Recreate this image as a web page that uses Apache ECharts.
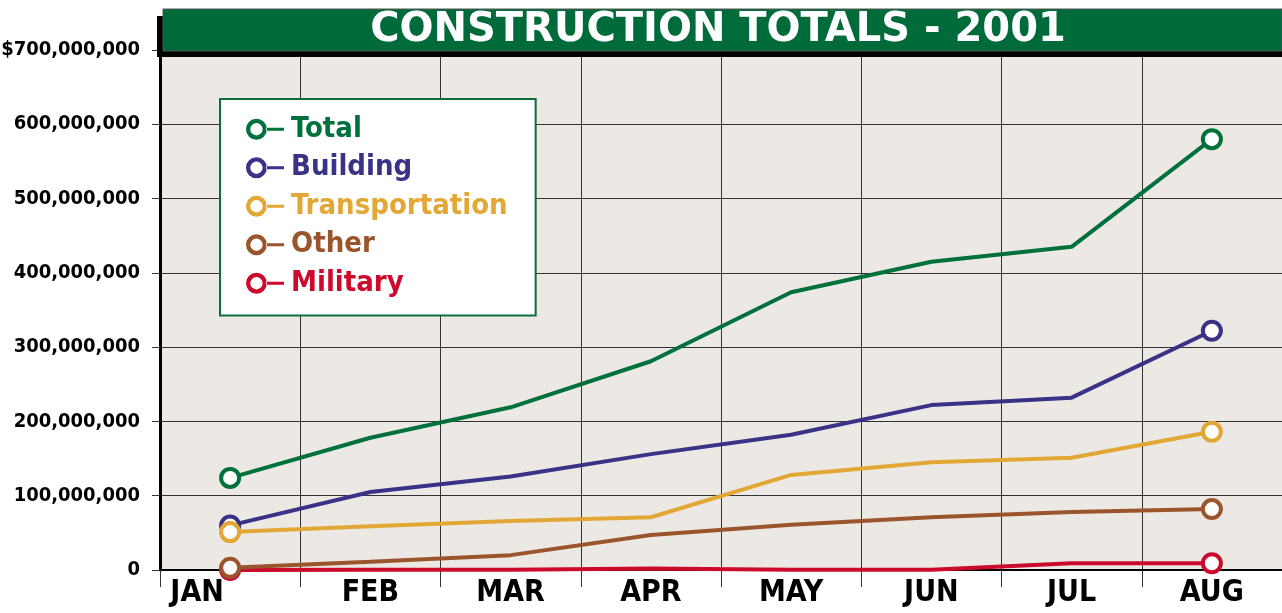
<!DOCTYPE html>
<html>
<head>
<meta charset="utf-8">
<script src="https://cdn.jsdelivr.net/npm/echarts@6/dist/echarts.min.js"></script>
<style>
html,body{margin:0;padding:0;background:#fff;}
#chart{width:1282px;height:613px;}
</style>
</head>
<body>
<div id="chart"></div>
<script>
var months = ['JAN','FEB','MAR','APR','MAY','JUN','JUL','AUG'];
var totalVals = [124000000,178000000,219000000,281000000,374000000,415000000,435000000,580000000];
var buildingVals = [60000000,105000000,126000000,156000000,182000000,222000000,232000000,322000000];
var transVals = [51000000,59000000,66000000,71000000,128000000,145000000,151000000,186000000];
var otherVals = [3000000,11000000,20000000,47000000,61000000,71000000,78000000,82000000];
var militaryVals = [0,500000,500000,2000000,500000,500000,9000000,9000000];
var yTicks = [0,100000000,200000000,300000000,400000000,500000000,600000000,700000000];

var seriesNames = ['Total','Building','Transportation','Other','Military'];
var seriesData = [totalVals,buildingVals,transVals,otherVals,militaryVals];
var colors = ['#00703c','#3a3287','#e2a735','#9b552c','#cc0a2b'];

var narrow = '"DejaVu Sans Condensed","Liberation Sans Narrow",sans-serif';

//只在首尾画圆圈
function buildPoints(vals){
	var arr = [];
	for(var i=0;i<vals.length;i++){
		if(i==0 || i==vals.length-1){
			arr.push({value:vals[i]});
		}else{
			arr.push({value:vals[i], symbol:'none'});
		}
	}
	return arr;
}

var Series = [];
for(var i=0;i<seriesNames.length;i++){
	Series.push({
		name: seriesNames[i],
		type: 'line',
		z: seriesNames[i]=='Military' ? 1 : 2,
		data: buildPoints(seriesData[i]),
		symbol: 'circle',
		symbolSize: 18,
		showAllSymbol: true,
		lineStyle: {color: colors[i], width: 4},
		itemStyle: {color: '#fff', borderColor: colors[i], borderWidth: 4},
		emphasis: {disabled: true}
	});
}

var legendData = [];
for(var i=0;i<seriesNames.length;i++){
	legendData.push({
		name: seriesNames[i],
		itemStyle: {color: colors[i], borderWidth: 0},
		textStyle: {color: colors[i]}
	});
}

//圆环加短线的图例图标
var ringIcon = 'path://M0,11 A11,11 0 1,0 22,11 A11,11 0 1,0 0,11 Z M4.5,11 A6.5,6.5 0 1,1 17.5,11 A6.5,6.5 0 1,1 4.5,11 Z M21,9.3 L40,9.3 L40,12.7 L21,12.7 Z';

var chart = echarts.init(document.getElementById('chart'));
var option = {
	animation: false,
	grid: {
		left: 160, right: 0, top: 50, bottom: 43,
		outerBoundsMode: 'none',
		containLabel: false,
		show: true,
		backgroundColor: '#ece8e4',
		borderWidth: 0
	},
	legend: {
		orient: 'vertical',
		left: 220,
		top: 99,
		data: legendData,
		icon: ringIcon,
		itemWidth: 38,
		itemHeight: 21,
		itemGap: 0,
		padding: [11, 28, 13, 26],
		backgroundColor: '#fff',
		borderColor: '#0b6e3d',
		borderWidth: 2,
		borderRadius: 0,
		selectedMode: false,
		textStyle: {
			fontFamily: narrow,
			fontWeight: 'bold',
			fontSize: 29,
			lineHeight: 38.5,
			padding: [0,0,0,2]
		}
	},
	xAxis: {
		type: 'category',
		data: months,
		boundaryGap: true,
		axisLine: {lineStyle: {color: '#000', width: 2}},
		axisTick: {show: true, length: 17, lineStyle: {color: '#333', width: 1}},
		splitLine: {show: true, lineStyle: {color: '#333', width: 1}},
		axisLabel: {
			interval: 0,
			color: '#000',
			fontFamily: narrow,
			fontWeight: 'bold',
			fontSize: 30,
			margin: 8,
			formatter: function(v, idx){
				return idx == 0 ? '{jan|' + v + '}' : v;
			},
			rich: {
				jan: {
					fontFamily: narrow,
					fontWeight: 'bold',
					fontSize: 30,
					color: '#000',
					padding: [0, 66, 0, 0]
				}
			}
		}
	},
	yAxis: {
		type: 'value',
		min: yTicks[0],
		max: yTicks[yTicks.length-1],
		interval: yTicks[1] - yTicks[0],
		axisLine: {show: true, lineStyle: {color: '#000', width: 3}},
		axisTick: {show: true, length: 8, lineStyle: {color: '#333', width: 1}},
		splitLine: {show: true, lineStyle: {color: '#333', width: 1}},
		axisLabel: {
			color: '#000',
			fontFamily: narrow,
			fontWeight: 'bold',
			fontSize: 20,
			margin: 20,
			formatter: function(v){
				var s = v.toLocaleString('en-US');
				return v == yTicks[yTicks.length-1] ? '$' + s : s;
			}
		}
	},
	graphic: [
		{type: 'rect', z: 100, shape: {x: 157, y: 16, width: 1125, height: 41}, style: {fill: '#000'}},
		{type: 'rect', z: 101, shape: {x: 163, y: 9, width: 1119, height: 42}, style: {fill: '#006b3a', stroke: '#555', lineWidth: 1}},
		{type: 'text', z: 102, x: 718, y: 31, style: {
			text: 'CONSTRUCTION TOTALS - 2001',
			fill: '#fff',
			font: 'bold 40px "DejaVu Sans", sans-serif',
			align: 'center',
			verticalAlign: 'middle'
		}}
	],
	series: Series
};
chart.setOption(option);
</script>
</body>
</html>
